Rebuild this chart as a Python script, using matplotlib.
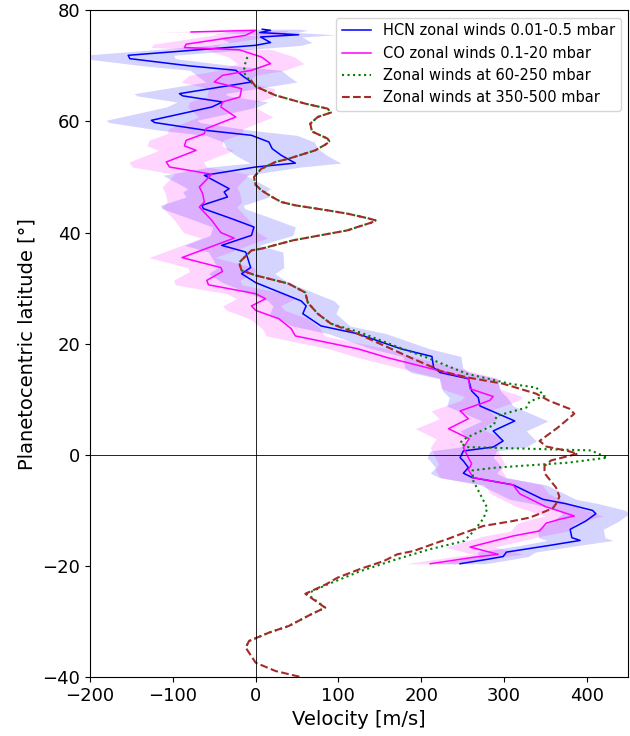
import matplotlib
matplotlib.use("Agg")
import matplotlib.pyplot as plt
import numpy as np

# HCN zonal winds 0.01-0.5 mbar (latitude, velocity, uncertainty)
hcn_lat = [76.6, 76.4, 76.0, 75.6, 75.2, 74.2, 73.7, 71.9, 71.3, 70.0,
           69.2, 68.0, 67.1, 65.0, 64.6, 63.5, 62.6, 60.2, 59.8, 58.4,
           57.5, 56.3, 55.1, 53.9, 52.5, 51.8, 50.3, 47.9, 47.3, 46.4,
           44.9, 44.3, 42.5, 41.0, 39.5, 37.7, 36.5, 33.7, 32.6, 31.0,
           27.7, 26.8, 25.4, 23.2, 21.8, 19.1, 17.7, 15.7, 14.8, 13.7,
           11.5, 10.3, 8.8, 6.1, 4.3, 2.5, 1.4, 0.7, -0.5, -1.1,
           -2.3, -3.3, -4.1, -5.4, -8.0, -8.8, -10.0, -10.6, -11.9, -13.4,
           -14.9, -15.4, -16.3, -17.5, -18.3, -18.8, -19.6]
hcn_vel = [8, 18, 5, 52, 6, 18, 0, -154, -152, -80,
           -24, -14, -5, -92, -88, -40, -53, -126, -122, -60,
           -5, 16, 20, 31, 48, 0, -62, -32, -38, -34,
           -65, -63, -29, -2, -5, -41, -12, -6, -17, 0,
           55, 61, 57, 79, 123, 175, 213, 215, 223, 257,
           261, 269, 271, 313, 287, 299, 287, 251, 247, 251,
           257, 251, 262, 311, 347, 375, 407, 411, 399, 380,
           382, 392, 355, 303, 299, 280, 247]
hcn_err = [45, 45, 45, 45, 50, 50, 55, 55, 55, 55,
           55, 55, 55, 55, 55, 55, 55, 55, 55, 55,
           55, 55, 55, 55, 55, 55, 50, 50, 50, 50,
           50, 50, 50, 50, 50, 45, 45, 40, 40, 40,
           40, 40, 40, 35, 35, 35, 35, 35, 35, 35,
           35, 35, 40, 40, 40, 40, 40, 40, 40, 40,
           40, 40, 40, 40, 40, 40, 40, 40, 40, 40,
           40, 40, 35, 35, 30, 30, 30]

# CO zonal winds 0.1-20 mbar
co_lat = [76.1, 76.4, 75.5, 73.9, 73.3, 72.9, 71.6, 70.4, 69.2, 68.3,
          67.1, 65.9, 64.4, 63.5, 62.6, 60.8, 58.7, 57.8, 56.6, 55.6,
          54.8, 52.7, 51.8, 50.5, 48.2, 47.0, 45.5, 44.6, 42.2, 40.0,
          39.0, 35.5, 33.7, 33.0, 31.4, 30.6, 29.0, 28.1, 26.8, 26.0,
          24.5, 22.7, 21.4, 19.1, 17.5, 15.7, 13.8, 11.9, 10.5, 9.8,
          7.9, 6.5, 4.7, 2.9, 1.3, -0.5, -1.6, -2.7, -4.1, -5.4,
          -7.0, -9.3, -11.0, -11.6, -12.3, -13.7, -14.6, -16.6, -17.9, -18.4,
          -19.6]
co_vel = [-78, 0, -12, -84, -86, -20, 7, 18, -5, -40,
          -50, -17, -19, -40, -42, -24, -60, -62, -84, -86,
          -72, -108, -104, -53, -68, -64, -62, -68, -53, -42,
          -26, -89, -42, -40, -59, -57, 0, 12, -5, 0,
          28, 43, 48, 123, 159, 207, 257, 259, 287, 283,
          247, 257, 233, 258, 251, 257, 261, 257, 263, 311,
          319, 350, 385, 367, 351, 343, 311, 259, 293, 265,
          211]
co_err = [40, 40, 40, 40, 40, 40, 40, 40, 40, 40,
          40, 40, 40, 40, 40, 45, 45, 45, 45, 45,
          45, 45, 45, 45, 45, 45, 45, 45, 45, 45,
          40, 40, 40, 40, 40, 40, 35, 35, 35, 35,
          35, 35, 35, 35, 35, 35, 35, 35, 35, 35,
          35, 35, 40, 40, 40, 40, 40, 40, 40, 35,
          35, 35, 35, 35, 35, 35, 35, 30, 30, 30,
          30]

# Zonal winds at 60-250 mbar
mid_lat = [71.6, 69.8, 68.5, 67.1, 66.3, 64.7, 63.2, 62.3, 61.6, 60.8,
           59.6, 58.2, 56.9, 56.4, 55.9, 54.8, 53.3, 52.7, 51.5, 50.0,
           48.6, 47.6, 46.4, 45.5, 44.9, 44.0, 43.4, 42.6, 42.2, 41.8,
           41.0, 40.4, 38.6, 37.1, 36.8, 34.6, 33.2, 32.3, 30.8, 29.2,
           27.4, 25.4, 23.6, 22.0, 19.5, 17.5, 15.5, 14.6, 12.8, 12.1,
           10.6, 9.6, 8.5, 7.0, 5.4, 3.1, 2.2, 1.4, 0.8, -0.5,
           -1.4, -2.3, -2.8, -4.7, -7.0, -9.6, -11.5, -13.8, -15.5, -17.0,
           -18.8, -20.9, -23.3, -25.0, -27.5, -28.7, -30.8, -32.0, -33.5, -34.7]
mid_vel = [-10, -14, -13, -6, 0, 24, 60, 87, 91, 75,
           66, 68, 87, 89, 85, 72, 40, 24, 7, -2,
           0, 7, 20, 31, 48, 87, 111, 135, 145, 140,
           123, 111, 45, 7, -5, -20, -17, 0, 40, 60,
           63, 75, 91, 127, 170, 207, 240, 255, 307, 339,
           349, 331, 327, 291, 288, 255, 247, 255, 405, 425,
           378, 290, 262, 263, 271, 280, 275, 263, 252, 210,
           170, 127, 87, 62, 84, 67, 40, 16, -8, -12]

# Zonal winds at 350-500 mbar
deep_lat = [67.5, 66.3, 64.7, 63.2, 62.3, 61.6, 60.8, 59.6, 58.2, 56.9,
            56.4, 55.9, 54.8, 53.3, 52.7, 51.5, 50.0, 48.6, 47.6, 46.4,
            45.5, 44.9, 44.0, 43.4, 42.6, 42.2, 41.8, 41.0, 40.4, 38.6,
            37.1, 36.8, 34.6, 33.2, 32.3, 30.8, 29.2, 27.4, 25.4, 23.6,
            21.8, 19.0, 17.3, 15.7, 15.1, 13.9, 12.8, 11.0, 9.7, 8.3,
            7.4, 4.9, 2.5, 1.5, 0.7, 0.2, -1.0, -2.0, -3.3, -5.9,
            -7.5, -8.8, -9.6, -10.6, -11.3, -11.9, -12.8, -14.3, -15.2, -15.8,
            -17.3, -17.9, -19.1, -20.5, -22.1, -23.3, -25.0, -27.5, -28.7, -30.8,
            -32.0, -33.5, -34.7, -37.4, -38.9, -40.0]
deep_vel = [-6, 0, 24, 60, 87, 91, 75, 66, 68, 87,
            89, 85, 72, 40, 24, 7, -2, 0, 7, 20,
            31, 48, 87, 111, 135, 145, 140, 123, 111, 45,
            7, -5, -20, -17, 0, 40, 60, 63, 75, 91,
            123, 165, 190, 215, 223, 257, 299, 339, 355, 379,
            385, 365, 343, 351, 377, 389, 357, 349, 349, 363,
            367, 363, 359, 343, 331, 311, 275, 247, 231, 219,
            191, 171, 155, 127, 99, 85, 60, 84, 67, 40,
            16, -8, -12, 0, 24, 55]

fig = plt.figure(figsize=(6.3, 7.36), dpi=100)
ax = fig.add_axes([0.143, 0.080, 0.854, 0.906])

hv = np.array(hcn_vel)
he = np.array(hcn_err)
cv = np.array(co_vel)
ce = np.array(co_err)

# shaded uncertainties
ax.fill_betweenx(hcn_lat, hv - he, hv + he, color='blue', alpha=0.17, lw=0)
ax.fill_betweenx(co_lat, cv - ce, cv + ce, color='magenta', alpha=0.17, lw=0)

ax.plot(hcn_vel, hcn_lat, color='blue', lw=1.1, label='HCN zonal winds 0.01-0.5 mbar')
ax.plot(co_vel, co_lat, color='magenta', lw=1.1, label='CO zonal winds 0.1-20 mbar')
ax.plot(mid_vel, mid_lat, color='green', ls=':', lw=1.5, label='Zonal winds at 60-250 mbar')
ax.plot(deep_vel, deep_lat, color='brown', ls='--', lw=1.5, label='Zonal winds at 350-500 mbar')

ax.axvline(0, color='black', lw=0.6)
ax.axhline(0, color='black', lw=0.6)

ax.set_xlim(-200, 450)
ax.set_ylim(-40, 80)
ax.set_xlabel('Velocity [m/s]', fontsize=14)
ax.set_ylabel('Planetocentric latitude [°]', fontsize=14)
ax.tick_params(labelsize=13)
ax.legend(loc='upper right', fontsize=10.5)

fig.savefig('out.png')
